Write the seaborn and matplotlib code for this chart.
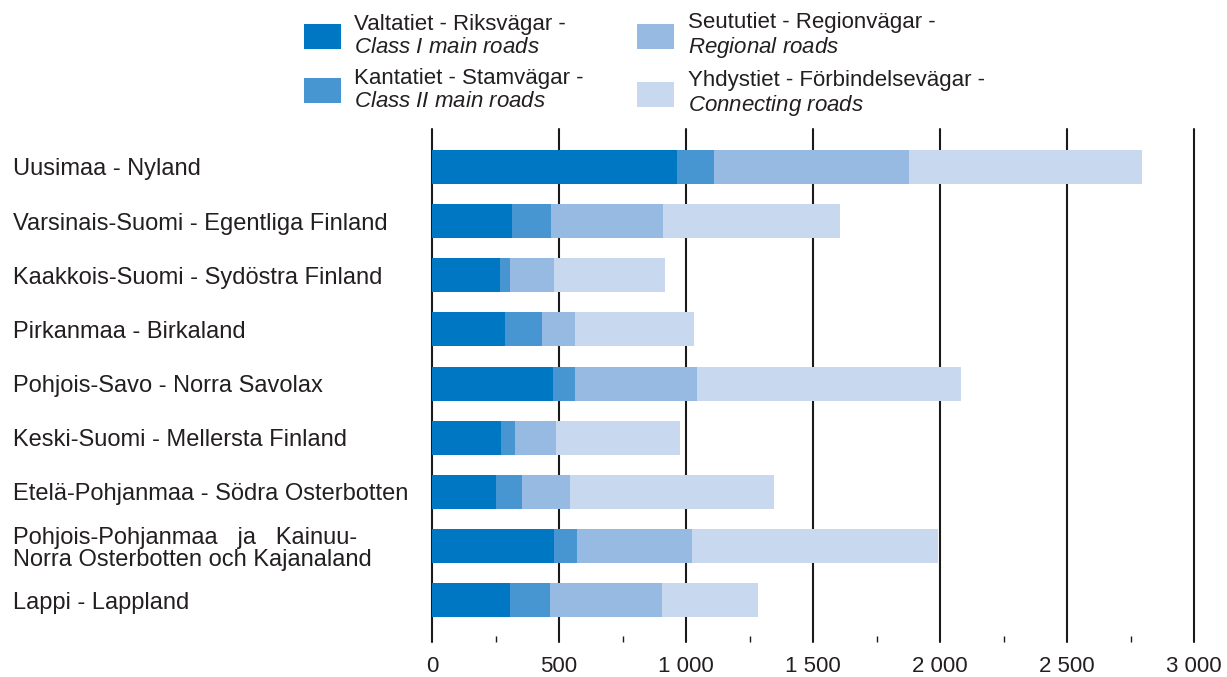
import pandas as pd
import matplotlib
matplotlib.use("Agg")
import matplotlib.pyplot as plt
import seaborn as sns
from matplotlib.patches import Patch
from matplotlib.ticker import MultipleLocator

regions = [
    "Uusimaa - Nyland",
    "Varsinais-Suomi - Egentliga Finland",
    "Kaakkois-Suomi - Sydöstra Finland",
    "Pirkanmaa - Birkaland",
    "Pohjois-Savo - Norra Savolax",
    "Keski-Suomi - Mellersta Finland",
    "Etelä-Pohjanmaa - Södra Osterbotten",
    "Pohjois-Pohjanmaa   ja   Kainuu-\nNorra Osterbotten och Kajanaland",
    "Lappi - Lappland",
]

# km of road per class
class1 = [963, 314, 266, 287, 477, 270, 253, 480, 307]
class2 = [148, 156, 42, 146, 86, 57, 102, 89, 157]
regional = [766, 439, 173, 130, 479, 161, 187, 455, 440]
connecting = [918, 697, 435, 468, 1042, 487, 803, 970, 378]

road_names = [
    "Valtatiet - Riksvägar -\n$\\it{Class\\ I\\ main\\ roads}$",
    "Kantatiet - Stamvägar -\n$\\it{Class\\ II\\ main\\ roads}$",
    "Seututiet - Regionvägar -\n$\\it{Regional\\ roads}$",
    "Yhdystiet - Förbindelsevägar -\n$\\it{Connecting\\ roads}$",
]
colors = ["#0077C3", "#4796D1", "#96BAE2", "#C8D8EF"]

xticks = [0, 500, 1000, 1500, 2000, 2500, 3000]
xtick_labels = ["0", "500", "1 000", "1 500", "2 000", "2 500", "3 000"]

df = pd.DataFrame({
    "region": regions,
    "class1": class1,
    "class2": class2,
    "regional": regional,
    "connecting": connecting,
})
# cumulative sums for stacking
df["c1"] = df["class1"]
df["c2"] = df["c1"] + df["class2"]
df["c3"] = df["c2"] + df["regional"]
df["c4"] = df["c3"] + df["connecting"]

sns.set_style("white")
plt.rcParams["font.family"] = ["Liberation Sans", "DejaVu Sans"]
plt.rcParams["mathtext.fontset"] = "custom"
plt.rcParams["mathtext.rm"] = "Liberation Sans"
plt.rcParams["mathtext.it"] = "Liberation Sans:italic"
plt.rcParams["text.color"] = "#231F20"

FS = 16

fig = plt.figure(figsize=(12.27, 6.77), dpi=100)
ax = fig.add_axes([432 / 1227, 35 / 677, 762 / 1227, 513 / 677])

for col, c in zip(["c4", "c3", "c2", "c1"], colors[::-1]):
    sns.barplot(data=df, x=col, y="region", color=c, width=0.63,
                orient="h", ax=ax, saturation=1, linewidth=0)

ax.set_xlim(0, 3000)
ax.set_ylim(8.77, -0.70)
ax.set_xticks(xticks)
ax.set_xticklabels(xtick_labels, fontsize=FS)
ax.xaxis.set_minor_locator(MultipleLocator(250))
ax.set_xlabel("")
ax.set_ylabel("")

ax.set_axisbelow(True)
ax.grid(axis="x", which="major", color="#1a1a1a", linewidth=1.5)
ax.grid(axis="y", visible=False)
for line in ax.get_xgridlines():
    line.set_clip_on(False)

for s in ax.spines.values():
    s.set_visible(False)

ax.tick_params(axis="x", which="major", length=0, pad=10, labelcolor="#231F20")
ax.tick_params(axis="x", which="minor", bottom=True, direction="in",
               length=4.5, width=1, color="#1a1a1a")
ax.tick_params(axis="y", length=0, pad=302, labelsize=17, labelcolor="#231F20")
for lab in ax.get_yticklabels():
    lab.set_horizontalalignment("left")
    lab.set_linespacing(1.05)

handles = [Patch(facecolor=c, edgecolor="none") for c in colors]
leg = fig.legend(handles, road_names, loc="upper left",
                 bbox_to_anchor=(304 / 1227, 1 - 12 / 677), ncol=2, frameon=False,
                 fontsize=FS, handlelength=1.67, handleheight=1.35,
                 handletextpad=0.6, columnspacing=2.4, borderpad=0,
                 labelspacing=0.45, borderaxespad=0)
for t in leg.get_texts():
    t.set_linespacing(1.12)

plt.savefig("out.png", dpi=100)
